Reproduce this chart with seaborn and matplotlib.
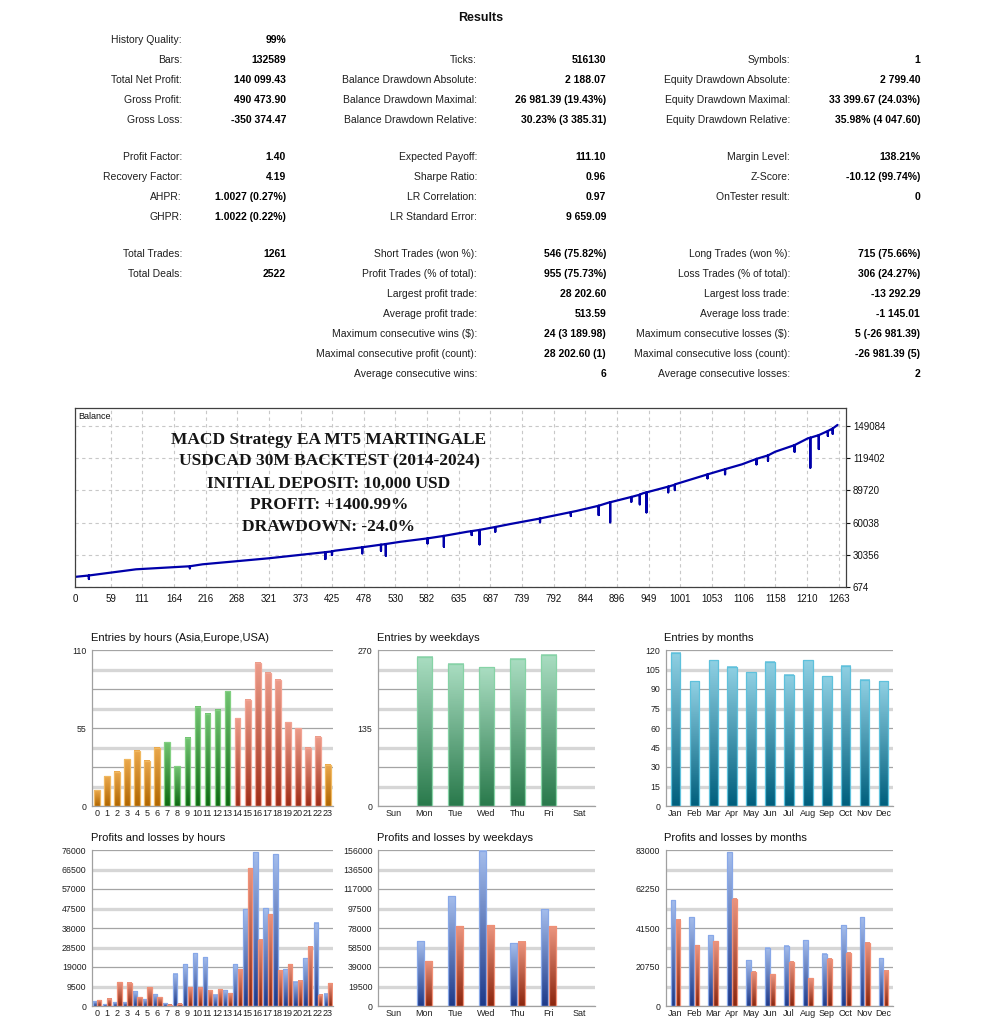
import numpy as np
import pandas as pd
import seaborn as sns
import matplotlib
matplotlib.use("Agg")
import matplotlib.pyplot as plt
from matplotlib.colors import LinearSegmentedColormap, to_hex

# ---------------- data ----------------
stats_col1 = [("History Quality:", "99%"), ("Bars:", "132589"),
              ("Total Net Profit:", "140 099.43"), ("Gross Profit:", "490 473.90"),
              ("Gross Loss:", "-350 374.47"), ("Profit Factor:", "1.40"),
              ("Recovery Factor:", "4.19"), ("AHPR:", "1.0027 (0.27%)"),
              ("GHPR:", "1.0022 (0.22%)"), ("Total Trades:", "1261"),
              ("Total Deals:", "2522"), None, None, None, None, None]
stats_col2 = [None, ("Ticks:", "516130"),
              ("Balance Drawdown Absolute:", "2 188.07"),
              ("Balance Drawdown Maximal:", "26 981.39 (19.43%)"),
              ("Balance Drawdown Relative:", "30.23% (3 385.31)"),
              ("Expected Payoff:", "111.10"), ("Sharpe Ratio:", "0.96"),
              ("LR Correlation:", "0.97"), ("LR Standard Error:", "9 659.09"),
              ("Short Trades (won %):", "546 (75.82%)"),
              ("Profit Trades (% of total):", "955 (75.73%)"),
              ("Largest profit trade:", "28 202.60"),
              ("Average profit trade:", "513.59"),
              ("Maximum consecutive wins ($):", "24 (3 189.98)"),
              ("Maximal consecutive profit (count):", "28 202.60 (1)"),
              ("Average consecutive wins:", "6")]
stats_col3 = [None, ("Symbols:", "1"),
              ("Equity Drawdown Absolute:", "2 799.40"),
              ("Equity Drawdown Maximal:", "33 399.67 (24.03%)"),
              ("Equity Drawdown Relative:", "35.98% (4 047.60)"),
              ("Margin Level:", "138.21%"), ("Z-Score:", "-10.12 (99.74%)"),
              ("OnTester result:", "0"), None,
              ("Long Trades (won %):", "715 (75.66%)"),
              ("Loss Trades (% of total):", "306 (24.27%)"),
              ("Largest loss trade:", "-13 292.29"),
              ("Average loss trade:", "-1 145.01"),
              ("Maximum consecutive losses ($):", "5 (-26 981.39)"),
              ("Maximal consecutive loss (count):", "-26 981.39 (5)"),
              ("Average consecutive losses:", "2")]

# balance curve (trade number, balance)
bal_trades = [0, 101, 211, 320, 430, 539, 649, 720, 775, 829, 884, 939,
              994, 1048, 1103, 1158, 1212, 1261]
bal_values = [10000, 16990, 21600, 27130, 34140, 42430, 51650, 58750, 64550,
              70730, 78750, 87030, 95620, 104840, 113780, 125400, 137740, 150099]
# drawdown spikes: trade number, balance before, lowest point
spike_trades = [23, 190, 414, 425, 475, 506, 514, 583, 610, 656, 669, 695,
                769, 820, 866, 885, 920, 934, 945, 981, 992, 1046, 1075,
                1127, 1146, 1190, 1216, 1230, 1245, 1253]
spike_tops = [11300, 19800, 32800, 33500, 37300, 39700, 40300, 45500, 47800,
              52200, 53300, 56000, 63800, 69700, 75600, 78800, 83700, 85800,
              87900, 93200, 95000, 104500, 109300, 118800, 122000, 131500,
              138300, 140700, 144500, 146800]
spike_lows = [8050, 17900, 26480, 30170, 31700, 34140, 29530, 40900, 37800,
              48600, 40000, 51650, 60320, 66120, 67040, 60320, 79300, 76900,
              69500, 87970, 90000, 100900, 104600, 113800, 117100, 125400,
              110700, 127900, 140000, 142000]
bal_xticks = [0, 59, 111, 164, 216, 268, 321, 373, 425, 478, 530, 582, 635,
              687, 739, 792, 844, 896, 949, 1001, 1053, 1106, 1158, 1210, 1263]
bal_yticks = [674, 30356, 60038, 89720, 119402, 149084]

overlay_lines = ["MACD Strategy EA MT5 MARTINGALE",
                 "USDCAD 30M BACKTEST (2014-2024)",
                 "INITIAL DEPOSIT: 10,000 USD",
                 "PROFIT: +1400.99%",
                 "DRAWDOWN: -24.0%"]

hours = [str(h) for h in range(24)]
hour_entries = [11, 21, 24, 33, 39, 32, 41, 45, 28, 48, 70, 65, 68, 81, 62,
                75, 101, 94, 89, 59, 55, 41, 49, 29]
hour_session = ["asia"] * 7 + ["europe"] * 7 + ["usa"] * 9 + ["asia"]
hour_profit = [2270, 810, 1790, 1790, 7150, 3250, 5680, 1460, 15750, 20460,
               25820, 23870, 5520, 7630, 20460, 47250, 74860, 47580, 73890,
               17860, 11850, 23220, 40600, 6010]
hour_loss = [2920, 3570, 11690, 11370, 4220, 9090, 4220, 490, 1140, 9090,
             8930, 7630, 8120, 6330, 17860, 67070, 32320, 44660, 17380,
             20300, 12180, 28910, 5520, 11200]

weekdays = ["Sun", "Mon", "Tue", "Wed", "Thu", "Fri", "Sat"]
weekday_entries = [0, 258, 246, 240, 255, 262, 0]
weekday_profit = [0, 65000, 109670, 155330, 62670, 96670, 0]
weekday_loss = [0, 44670, 79670, 80670, 64330, 79670, 0]

months = ["Jan", "Feb", "Mar", "Apr", "May", "Jun", "Jul", "Aug", "Sep",
          "Oct", "Nov", "Dec"]
month_entries = [118, 96, 112, 107, 103, 111, 101, 112, 100, 108, 97, 96]
month_profit = [56220, 47170, 37600, 81760, 24300, 31040, 32100, 35110,
                27670, 42920, 47170, 25360]
month_loss = [45760, 32450, 34400, 56930, 18270, 16850, 23590, 14720,
              25180, 28200, 33520, 18800]

ticks_hour_entries = [0, 55, 110]
ticks_weekday_entries = [0, 135, 270]
ticks_month_entries = [0, 15, 30, 45, 60, 75, 90, 105, 120]
ticks_hour_pl = [0, 9500, 19000, 28500, 38000, 47500, 57000, 66500, 76000]
ticks_weekday_pl = [0, 19500, 39000, 58500, 78000, 97500, 117000, 136500, 156000]
ticks_month_pl = [0, 20750, 41500, 62250, 83000]

# ---------------- style ----------------
sns.set_style("white")
plt.rcParams['font.family'] = ['Liberation Sans', 'DejaVu Sans']

W, H = 997, 1024
fig = plt.figure(figsize=(W / 100, H / 100), dpi=100)
fig.patch.set_facecolor("white")


def add_ax(l, t, r, b):
    return fig.add_axes([l / W, 1 - b / H, (r - l) / W, (b - t) / H])


def ftext(x, y, s, **kw):
    fig.text(x / W, 1 - y / H, s, va="center", **kw)


# (top, bottom, edge) gradient schemes keyed by palette base colour
schemes = {
    "#d08a20": ("#eba84c", "#b06600", "#f0b860"),   # asia orange
    "#2f8f30": ("#72c372", "#0e6a12", "#82d082"),   # europe green
    "#c85a40": ("#ec9c8a", "#a02e18", "#f2a494"),   # usa red
    "#5aaa80": ("#a9ddc1", "#2a7a4c", "#86d3a6"),   # weekdays green
    "#3090b0": ("#8fd0e3", "#005f7d", "#5ec1dc"),   # months teal
    "#4a6cc0": ("#a4bdec", "#1e3a8a", "#88a8e8"),   # profit blue
    "#c05030": ("#eb957f", "#8c260e", "#f09077"),   # loss red
}
session_color = {"asia": "#d08a20", "europe": "#2f8f30", "usa": "#c85a40"}


def gradient_bars(ax):
    for p in list(ax.patches):
        h = p.get_height()
        if h <= 0:
            p.set_visible(False)
            continue
        top, bot, edge = schemes[to_hex(p.get_facecolor())]
        cmap = LinearSegmentedColormap.from_list("g", [bot, top])
        x0, y0, w = p.get_x(), p.get_y(), p.get_width()
        ax.imshow(np.linspace(0, 1, 64).reshape(-1, 1),
                  extent=(x0, x0 + w, y0, y0 + h), origin="lower",
                  aspect="auto", cmap=cmap, zorder=2)
        p.set_facecolor("none")
        p.set_edgecolor(edge)
        p.set_linewidth(0.9)
        p.set_zorder(3)


def style_panel(ax, n, ymax, yticks, title, tx, ty):
    ax.set_xlim(-0.5, n - 0.5)
    ax.set_ylim(0, ymax)
    for i in range(9):
        lv = ymax * i / 8
        if i % 2 == 0:
            ax.axhline(lv, color="#a4a4a4", lw=0.9, zorder=1)
        else:
            ax.axhline(lv, color="#d6d6d6", lw=2.4, zorder=1)
    ax.set_yticks(yticks)
    ax.set_yticklabels([str(t) for t in yticks])
    ax.set_xlabel("")
    ax.set_ylabel("")
    for s in ["top", "right"]:
        ax.spines[s].set_visible(False)
    for s in ["left", "bottom"]:
        ax.spines[s].set_color("#a0a0a0")
        ax.spines[s].set_linewidth(0.9)
    ax.tick_params(axis="y", length=0, pad=4, labelsize=6.3, colors="#202020")
    ax.tick_params(axis="x", length=0, pad=2, labelsize=6.5, colors="#202020")
    ax.set_xticks(np.arange(n + 1) - 0.5, minor=True)
    ax.tick_params(axis="x", which="minor", length=3.5, color="#a0a0a0",
                   direction="out")
    ax.set_facecolor("white")
    ftext(tx, ty, title, fontsize=8, color="#101010")


# ---------------- results table ----------------
ftext(481, 18, "Results", fontsize=9, fontweight="bold", ha="center",
      color="#101010")
row_y = [40, 60, 80, 100, 120, 157, 177, 197, 217, 254, 274, 294, 314, 334,
         354, 374]
col_x = [(182, 286), (477, 606), (790, 920)]
for col, (lx, vx) in zip([stats_col1, stats_col2, stats_col3], col_x):
    for y, item in zip(row_y, col):
        if item is None:
            continue
        ftext(lx, y, item[0], fontsize=7.5, ha="right", color="#1e1e1e")
        ftext(vx, y, item[1], fontsize=7.5, ha="right", fontweight="bold",
              color="#000000")

# ---------------- balance chart ----------------
events = [(t, 0, v) for t, v in zip(bal_trades, bal_values)]
for t, top, low in zip(spike_trades, spike_tops, spike_lows):
    events += [(t, 1, top), (t, 2, low), (t, 3, top)]
events.sort()
curve = pd.DataFrame({"trade": [e[0] for e in events],
                      "balance": [e[2] for e in events]})

axb = add_ax(75, 408, 846, 587)
sns.lineplot(data=curve, x="trade", y="balance", sort=False, estimator=None,
             color="#0000aa", lw=1.6, ax=axb)
axb.set_xlim(0, 1275)
axb.set_ylim(674, 165700)
axb.set_xticks(bal_xticks)
axb.set_xticklabels([str(t) for t in bal_xticks])
axb.set_yticks(bal_yticks)
axb.set_yticklabels([str(t) for t in bal_yticks])
axb.yaxis.tick_right()
axb.tick_params(axis="both", length=3, direction="out", labelsize=7,
                colors="#101010", pad=2)
axb.grid(True, color="#c8c8c8", linestyle=(0, (3, 3)), lw=0.8)
axb.set_xlabel("")
axb.set_ylabel("")
for s in axb.spines.values():
    s.set_color("#404040")
    s.set_linewidth(0.9)
axb.text(0.004, 0.955, "Balance", transform=axb.transAxes, fontsize=6.5,
         va="center", color="#101010")
for i, line in enumerate(overlay_lines):
    ftext(329, 440 + i * 21.7, line, fontsize=12.5, ha="center",
          fontweight="bold", color="#151515",
          family=["Liberation Serif", "DejaVu Serif"])

# ---------------- entries ----------------
ax1 = add_ax(92, 650, 333, 806)
sns.barplot(x=hours, y=hour_entries, hue=hours, order=hours, hue_order=hours,
            palette=[session_color[s] for s in hour_session], legend=False,
            saturation=1, width=0.57, ax=ax1)
gradient_bars(ax1)
style_panel(ax1, 24, 110, ticks_hour_entries,
            "Entries by hours (Asia,Europe,USA)", 91, 638)

ax2 = add_ax(378, 650, 595, 806)
sns.barplot(x=weekdays, y=weekday_entries, hue=weekdays, order=weekdays,
            hue_order=weekdays, palette=["#5aaa80"] * 7, legend=False,
            saturation=1, width=0.5, ax=ax2)
gradient_bars(ax2)
style_panel(ax2, 7, 270, ticks_weekday_entries, "Entries by weekdays", 377, 638)

ax3 = add_ax(666, 650, 893, 806)
sns.barplot(x=months, y=month_entries, hue=months, order=months,
            hue_order=months, palette=["#3090b0"] * 12, legend=False,
            saturation=1, width=0.5, ax=ax3)
gradient_bars(ax3)
style_panel(ax3, 12, 120, ticks_month_entries, "Entries by months", 664, 638)

# ---------------- profits and losses ----------------
pl_palette = {"Profit": "#4a6cc0", "Loss": "#c05030"}


def pl_frame(cats, profit, loss):
    return pd.DataFrame({"cat": cats * 2,
                         "kind": ["Profit"] * len(cats) + ["Loss"] * len(cats),
                         "value": profit + loss})


ax4 = add_ax(92, 850, 333, 1006)
sns.barplot(data=pl_frame(hours, hour_profit, hour_loss), x="cat", y="value",
            hue="kind", order=hours, hue_order=["Profit", "Loss"],
            palette=pl_palette, legend=False, saturation=1, width=0.9,
            gap=0.05, ax=ax4)
gradient_bars(ax4)
style_panel(ax4, 24, 76000, ticks_hour_pl, "Profits and losses by hours",
            91, 838)

ax5 = add_ax(378, 850, 595, 1006)
sns.barplot(data=pl_frame(weekdays, weekday_profit, weekday_loss), x="cat",
            y="value", hue="kind", order=weekdays, hue_order=["Profit", "Loss"],
            palette=pl_palette, legend=False, saturation=1, width=0.5,
            gap=0.08, ax=ax5)
gradient_bars(ax5)
style_panel(ax5, 7, 156000, ticks_weekday_pl, "Profits and losses by weekdays",
            377, 838)

ax6 = add_ax(666, 850, 893, 1006)
sns.barplot(data=pl_frame(months, month_profit, month_loss), x="cat",
            y="value", hue="kind", order=months, hue_order=["Profit", "Loss"],
            palette=pl_palette, legend=False, saturation=1, width=0.53,
            gap=0.05, ax=ax6)
gradient_bars(ax6)
style_panel(ax6, 12, 83000, ticks_month_pl, "Profits and losses by months",
            664, 838)

fig.savefig("out.png", dpi=100, facecolor="white")
